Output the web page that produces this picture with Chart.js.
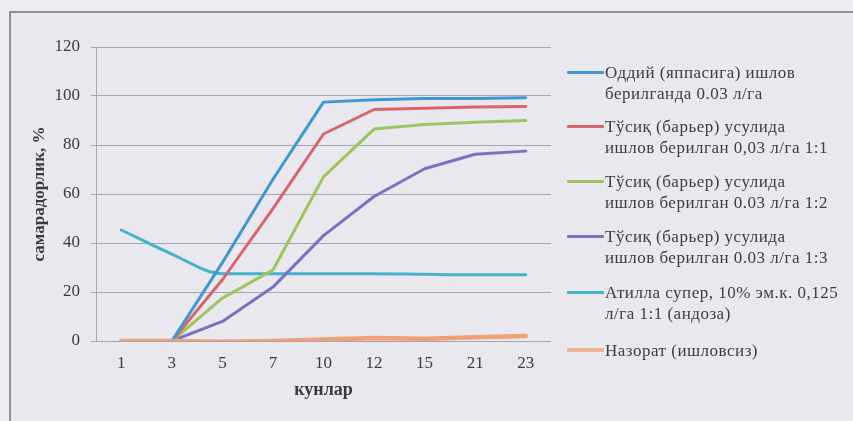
<!DOCTYPE html>
<html>
<head>
<meta charset="utf-8">
<script src="https://cdn.jsdelivr.net/npm/chart.js@4"></script>
<style>
  html, body { margin: 0; padding: 0; background: #eeeef2; }
  #wrap { position: relative; width: 853px; height: 421px; overflow: hidden; }
  #frame { position: absolute; left: 9px; top: 11px; width: 880px; height: 440px;
           border-left: 2px solid #8e8e96; border-top: 2px solid #8e8e96; background: #e8e8ee; }
  #chart { position: absolute; left: 0; top: 0; }
  #legend { position: absolute; left: 567px; top: 0; font: 17px "Liberation Serif", "Times New Roman", serif;
            color: #3c3c44; letter-spacing: 0.5px; }
  .item { position: absolute; left: 0; white-space: nowrap; }
  .swatch { position: absolute; left: 0; width: 37px; border-radius: 1px; }
  .txt { position: absolute; left: 38px; top: 0; line-height: 21px; white-space: pre; }
</style>
</head>
<body>
<div id="wrap">
  <div id="frame"></div>
  <canvas id="chart" width="853" height="421"></canvas>
  <div id="legend"></div>
</div>
<script>
// Days after treatment (category axis)
const days = ['1', '3', '5', '7', '10', '12', '15', '21', '23'];

// Efficiency, % for each treatment variant
const oddiy   = [0, 0, 32, 66, 97.5, 98.5, 99, 99, 99.3];
const tusiq11 = [0, 0, 25, 54, 84.5, 94.5, 95, 95.5, 95.7];
const tusiq12 = [0, 0, 17.5, 29, 67, 86.5, 88.4, 89.3, 90];
const tusiq13 = [0, 0, 8, 22, 43, 59, 70.3, 76.2, 77.5];
const atilla  = [45.3, 35.5, 27.5, 27.5, 27.5, 27.5, 27.2, 27, 27];
const nazorat = [0, 0, -0.3, 0, 0.6, 1.2, 0.9, 1.5, 2];

// Series names (line breaks as shown in the legend)
const seriesNames = [
  'Оддий (яппасига) ишлов\nберилганда 0.03 л/га',
  'Тўсиқ (барьер) усулида\nишлов берилган 0,03 л/га 1:1',
  'Тўсиқ (барьер) усулида\nишлов берилган 0.03 л/га 1:2',
  'Тўсиқ (барьер) усулида\nишлов берилган 0.03 л/га 1:3',
  'Атилла супер, 10% эм.к. 0,125\nл/га 1:1 (андоза)',
  'Назорат (ишловсиз)'
];

// y-axis range and tick step
const yMin = 0, yMax = 120, yStep = 20;

const colors = ['#3f98d4', '#d9646e', '#9cc55c', '#7c70c4', '#43b2cc', '#f0a274'];
const values = [oddiy, tusiq11, tusiq12, tusiq13, atilla, nazorat];

const datasets = values.map((v, i) => ({
  label: seriesNames[i],
  data: v,
  borderColor: colors[i],
  backgroundColor: colors[i],
  borderWidth: i === 5 ? 4.5 : 3,
  pointRadius: 0,
  tension: i === 4 ? 0.4 : 0,
  cubicInterpolationMode: i === 4 ? 'monotone' : 'default',
  borderJoinStyle: 'round',
  borderCapStyle: 'round',
  order: i === 5 ? 0 : i + 1
}));

const serif = '"Liberation Serif", "Times New Roman", serif';
const textColor = '#3a3a40';

const chart = new Chart(document.getElementById('chart'), {
  type: 'line',
  data: { labels: days, datasets },
  options: {
    responsive: false,
    devicePixelRatio: 1,
    animation: false,
    layout: { padding: { left: 10, right: 302, top: 47, bottom: 20 } },
    plugins: { legend: { display: false }, tooltip: { enabled: false } },
    scales: {
      x: {
        offset: true,
        grid: { display: false, drawTicks: false },
        border: { display: false },
        ticks: { color: textColor, font: { family: serif, size: 17 }, padding: 12, maxRotation: 0 },
        title: { display: true, text: 'кунлар', color: textColor,
                 font: { family: serif, size: 18, weight: 'bold' }, padding: { top: 0, bottom: 0 } },
        afterFit: s => { s.height = 60; }
      },
      y: {
        min: yMin, max: yMax,
        ticks: { stepSize: yStep, color: textColor, font: { family: serif, size: 17 }, padding: 11 },
        grid: { color: '#a6a6ae', lineWidth: 1, tickLength: 5 },
        border: { display: true, color: '#a6a6ae', width: 1 },
        title: { display: true, text: 'самарадорлик, %', color: textColor,
                 font: { family: serif, size: 17, weight: 'bold' }, padding: { top: 19, bottom: 0 } },
        afterFit: s => { s.width = 86; }
      }
    }
  }
});

// Legend built from the chart's own datasets
const legend = document.getElementById('legend');
const firstLine = [72, 126, 181, 236, 292, 350];
chart.data.datasets.forEach((ds, i) => {
  const item = document.createElement('div');
  item.className = 'item';
  item.style.top = (firstLine[i] - 10.5) + 'px';
  const sw = document.createElement('div');
  sw.className = 'swatch';
  const h = ds.borderWidth;
  sw.style.height = h + 'px';
  sw.style.top = (10.5 - h / 2) + 'px';
  sw.style.background = ds.borderColor;
  if (i === 5) sw.style.opacity = '0.75';
  const tx = document.createElement('div');
  tx.className = 'txt';
  tx.textContent = ds.label;
  item.appendChild(sw);
  item.appendChild(tx);
  legend.appendChild(item);
});
</script>
</body>
</html>
